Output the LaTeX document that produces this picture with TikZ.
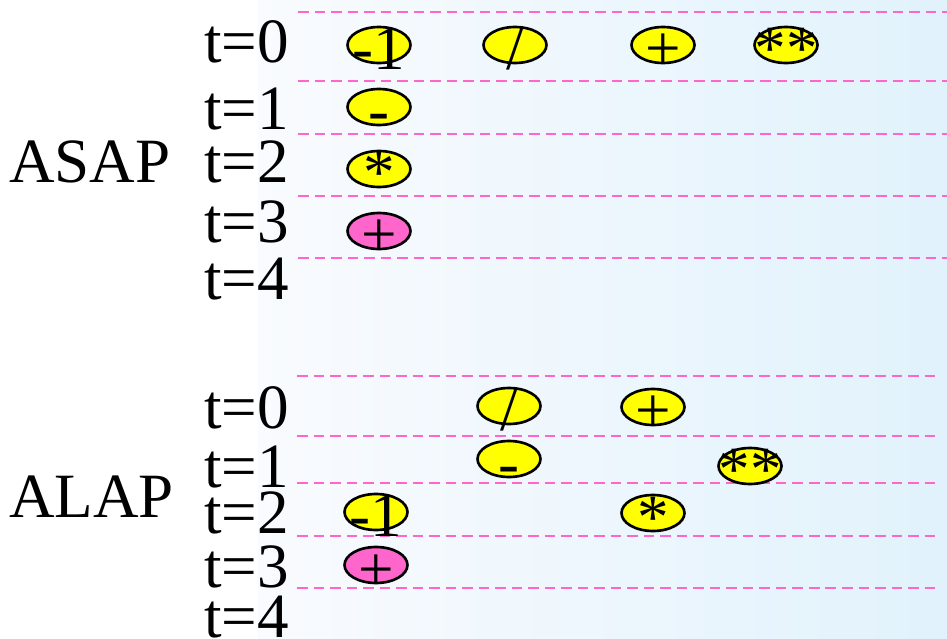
\documentclass[tikz,border=0pt]{standalone}
\usepackage{fontspec}
\setmainfont{Liberation Serif}
\usepackage{xcolor}
\definecolor{opyellow}{HTML}{FFFF00}
\definecolor{oppink}{HTML}{FF66CC}
\definecolor{rulepink}{HTML}{FF66CC}
\definecolor{bgleft}{HTML}{F9FBFE}
\definecolor{bgright}{HTML}{E1F2FC}
\usepackage{tikz}
\usetikzlibrary{shapes.geometric}
\newcommand{\bigfont}{\fontsize{35.9}{40}\selectfont}

\begin{document}
\begin{tikzpicture}[x=0.02cm,y=-0.02cm,
  op/.style={ellipse,draw=black,line width=1.5pt,fill=opyellow,
             minimum width=1.26cm,minimum height=0.72cm,inner sep=0pt},
  late/.style={fill=oppink},
  sym/.style={font=\bigfont,inner sep=0pt,text height=0pt,text depth=0pt,
              yshift=-0.5cm},
  tlab/.style={font=\bigfont,inner sep=0pt,anchor=base west},
  slot/.style={draw=rulepink,line width=1.4pt,dash pattern=on 6pt off 3.4pt}]
\useasboundingbox (0,0) rectangle (947,639);
\fill[white] (0,0) rectangle (258,639);
\shade[left color=bgleft,right color=bgright] (258,0) rectangle (947,639);

% ASAP schedule
\foreach \y in {12,81,134,196,258}
  \draw[slot] (298,\y) -- (947,\y);
\node[tlab] (asap) at (9,182) {ASAP};
\node[tlab] (s-t0) at (204,62) {t=0};
\node[tlab] (s-t1) at (204,129) {t=1};
\node[tlab] (s-t2) at (204,182) {t=2};
\node[tlab] (s-t3) at (204,242) {t=3};
\node[tlab] (s-t4) at (204,299) {t=4};
\node[op,label={[sym]center:-1}] (s-neg) at (379,45) {};
\node[op,label={[sym]center:/}] (s-div) at (515,45) {};
\node[op,label={[sym]center:+}] (s-add) at (663,45) {};
\node[op,label={[sym]center:**}] (s-pow) at (786,45) {};
\node[op,label={[sym]center:-}] (s-sub) at (379,107) {};
\node[op,label={[sym]center:*}] (s-mul) at (379,169) {};
\node[op,late,label={[sym]center:+}] (s-acc) at (379,231) {};

% ALAP schedule
\foreach \y in {376,436,483,536,588}
  \draw[slot] (297,\y) -- (937,\y);
\node[tlab] (alap) at (9,517) {ALAP};
\node[tlab] (l-t0) at (204,428) {t=0};
\node[tlab] (l-t1) at (204,487) {t=1};
\node[tlab] (l-t2) at (204,533) {t=2};
\node[tlab] (l-t3) at (204,587) {t=3};
\node[tlab] (l-t4) at (204,637) {t=4};
\node[op,label={[sym]center:/}] (l-div) at (509,406) {};
\node[op,label={[sym]center:+}] (l-add) at (653,407) {};
\node[op,label={[sym]center:-}] (l-sub) at (509,459) {};
\node[op,label={[sym]center:**}] (l-pow) at (750,466) {};
\node[op,label={[sym]center:-1}] (l-neg) at (376,512) {};
\node[op,label={[sym]center:*}] (l-mul) at (653,513) {};
\node[op,late,label={[sym]center:+}] (l-acc) at (376,565) {};
\end{tikzpicture}
\end{document}
